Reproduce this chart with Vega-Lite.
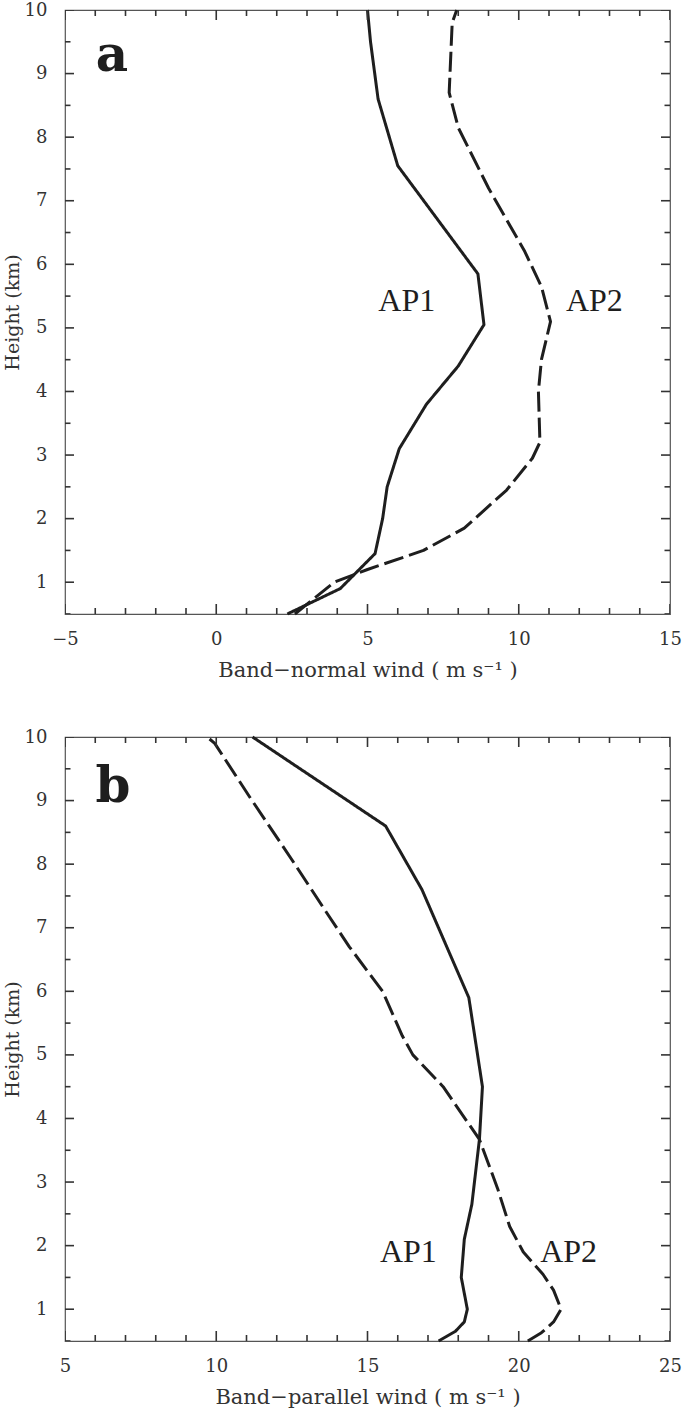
{
  "$schema": "https://vega.github.io/schema/vega-lite/v6.json",
  "padding": {"left": 2, "top": 0, "right": 5, "bottom": 0},
  "background": "white",
  "spacing": 46,
  "config": {
    "view": {"stroke": "#555", "strokeWidth": 1.2},
    "axis": {"domain": false, "grid": false, "ticks": false, "labelFont": "DejaVu Serif", "labelFontSize": 18, "labelColor": "#333", "titleFont": "DejaVu Serif", "titleFontWeight": "normal", "titleColor": "#333", "labelFlush": false, "labelOverlap": false}
  },
  "datasets": {
    "xa_ticks": [{"v": -5}, {"v": -4}, {"v": -3}, {"v": -2}, {"v": -1}, {"v": 0}, {"v": 1}, {"v": 2}, {"v": 3}, {"v": 4}, {"v": 5}, {"v": 6}, {"v": 7}, {"v": 8}, {"v": 9}, {"v": 10}, {"v": 11}, {"v": 12}, {"v": 13}, {"v": 14}, {"v": 15}],
    "xb_ticks": [{"v": 5}, {"v": 6}, {"v": 7}, {"v": 8}, {"v": 9}, {"v": 10}, {"v": 11}, {"v": 12}, {"v": 13}, {"v": 14}, {"v": 15}, {"v": 16}, {"v": 17}, {"v": 18}, {"v": 19}, {"v": 20}, {"v": 21}, {"v": 22}, {"v": 23}, {"v": 24}, {"v": 25}],
    "y_ticks": [{"v": 0.5}, {"v": 1}, {"v": 1.5}, {"v": 2}, {"v": 2.5}, {"v": 3}, {"v": 3.5}, {"v": 4}, {"v": 4.5}, {"v": 5}, {"v": 5.5}, {"v": 6}, {"v": 6.5}, {"v": 7}, {"v": 7.5}, {"v": 8}, {"v": 8.5}, {"v": 9}, {"v": 9.5}, {"v": 10}],
    "a_lines": [
      {"series": "AP1", "height": 10.0, "wind": 5.0},
      {"series": "AP1", "height": 9.5, "wind": 5.1},
      {"series": "AP1", "height": 8.6, "wind": 5.35},
      {"series": "AP1", "height": 7.55, "wind": 6.0},
      {"series": "AP1", "height": 5.85, "wind": 8.65},
      {"series": "AP1", "height": 5.05, "wind": 8.85},
      {"series": "AP1", "height": 4.4, "wind": 8.0},
      {"series": "AP1", "height": 3.8, "wind": 6.95},
      {"series": "AP1", "height": 3.1, "wind": 6.05},
      {"series": "AP1", "height": 2.5, "wind": 5.65},
      {"series": "AP1", "height": 2.0, "wind": 5.5},
      {"series": "AP1", "height": 1.45, "wind": 5.25},
      {"series": "AP1", "height": 0.9, "wind": 4.1},
      {"series": "AP1", "height": 0.5, "wind": 2.35},
      {"series": "AP2", "height": 10.0, "wind": 7.95},
      {"series": "AP2", "height": 9.8, "wind": 7.8},
      {"series": "AP2", "height": 8.7, "wind": 7.7},
      {"series": "AP2", "height": 8.15, "wind": 8.0},
      {"series": "AP2", "height": 7.2, "wind": 9.0},
      {"series": "AP2", "height": 6.2, "wind": 10.2},
      {"series": "AP2", "height": 5.65, "wind": 10.75},
      {"series": "AP2", "height": 5.1, "wind": 11.05},
      {"series": "AP2", "height": 4.5, "wind": 10.75},
      {"series": "AP2", "height": 4.0, "wind": 10.65},
      {"series": "AP2", "height": 3.2, "wind": 10.7},
      {"series": "AP2", "height": 2.95, "wind": 10.45},
      {"series": "AP2", "height": 2.45, "wind": 9.6},
      {"series": "AP2", "height": 1.85, "wind": 8.2},
      {"series": "AP2", "height": 1.5, "wind": 6.85},
      {"series": "AP2", "height": 1.2, "wind": 5.0},
      {"series": "AP2", "height": 1.0, "wind": 3.9},
      {"series": "AP2", "height": 0.5, "wind": 2.6}
    ],
    "a_labels": [
      {"label": "AP1", "wind": 6.3, "height": 5.27},
      {"label": "AP2", "wind": 12.5, "height": 5.27}
    ],
    "b_lines": [
      {"series": "AP1", "height": 10.0, "wind": 11.2},
      {"series": "AP1", "height": 8.6, "wind": 15.6},
      {"series": "AP1", "height": 7.6, "wind": 16.8},
      {"series": "AP1", "height": 5.9, "wind": 18.35},
      {"series": "AP1", "height": 4.5, "wind": 18.8},
      {"series": "AP1", "height": 3.67, "wind": 18.7},
      {"series": "AP1", "height": 2.65, "wind": 18.45},
      {"series": "AP1", "height": 2.1, "wind": 18.2},
      {"series": "AP1", "height": 1.5, "wind": 18.1},
      {"series": "AP1", "height": 1.0, "wind": 18.3},
      {"series": "AP1", "height": 0.8, "wind": 18.2},
      {"series": "AP1", "height": 0.65, "wind": 17.9},
      {"series": "AP1", "height": 0.5, "wind": 17.35},
      {"series": "AP2", "height": 10.0, "wind": 9.7},
      {"series": "AP2", "height": 9.9, "wind": 9.95},
      {"series": "AP2", "height": 9.06, "wind": 11.1},
      {"series": "AP2", "height": 8.07, "wind": 12.5},
      {"series": "AP2", "height": 7.2, "wind": 13.7},
      {"series": "AP2", "height": 6.7, "wind": 14.4},
      {"series": "AP2", "height": 6.0, "wind": 15.5},
      {"series": "AP2", "height": 5.3, "wind": 16.15},
      {"series": "AP2", "height": 5.0, "wind": 16.5},
      {"series": "AP2", "height": 4.5, "wind": 17.5},
      {"series": "AP2", "height": 3.67, "wind": 18.7},
      {"series": "AP2", "height": 2.9, "wind": 19.3},
      {"series": "AP2", "height": 2.3, "wind": 19.7},
      {"series": "AP2", "height": 1.9, "wind": 20.15},
      {"series": "AP2", "height": 1.55, "wind": 20.8},
      {"series": "AP2", "height": 1.3, "wind": 21.15},
      {"series": "AP2", "height": 1.0, "wind": 21.4},
      {"series": "AP2", "height": 0.8, "wind": 21.15},
      {"series": "AP2", "height": 0.63, "wind": 20.75},
      {"series": "AP2", "height": 0.5, "wind": 20.3}
    ],
    "b_labels": [
      {"label": "AP1", "wind": 16.35, "height": 1.74},
      {"label": "AP2", "wind": 21.65, "height": 1.74}
    ]
  },
  "vconcat": [
    {
      "width": 605,
      "height": 604,
      "layer": [
        {
          "data": {"name": "a_lines"},
          "mark": {"type": "line", "color": "#1e1e1e", "strokeWidth": 3, "strokeJoin": "round"},
          "encoding": {
            "x": {"field": "wind", "type": "quantitative", "scale": {"domain": [-5, 15], "nice": false, "zero": false},
              "axis": {"orient": "bottom", "values": [-5, 0, 5, 10, 15], "format": "d", "labelPadding": 16,
                "title": "Band−normal wind ( m s⁻¹ )", "titleFontSize": 21, "titleY": 56, "titleBaseline": "middle"}},
            "y": {"field": "height", "type": "quantitative", "scale": {"domain": [0.5, 10], "nice": false, "zero": false},
              "axis": {"orient": "left", "values": [1, 2, 3, 4, 5, 6, 7, 8, 9, 10], "format": "d", "labelPadding": 18,
                "title": "Height (km)", "titleFontSize": 19, "titleX": -53, "titleBaseline": "middle"}},
            "strokeDash": {"field": "series", "type": "nominal", "scale": {"domain": ["AP1", "AP2"], "range": [[1, 0], [20, 6]]}, "legend": null},
            "order": {"field": "height", "type": "quantitative"}
          }
        },
        {
          "data": {"name": "xa_ticks"},
          "mark": {"type": "tick", "orient": "vertical", "clip": true, "color": "#333", "thickness": 1.6, "opacity": 1},
          "encoding": {
            "x": {"field": "v", "type": "quantitative", "axis": null},
            "y": {"datum": 0.5, "type": "quantitative", "axis": null},
            "size": {"condition": {"test": "datum.v % 5 === 0", "value": 20}, "value": 12}
          }
        },
        {
          "data": {"name": "xa_ticks"},
          "mark": {"type": "tick", "orient": "vertical", "clip": true, "color": "#333", "thickness": 1.6, "opacity": 1},
          "encoding": {
            "x": {"field": "v", "type": "quantitative", "axis": null},
            "y": {"datum": 10, "type": "quantitative", "axis": null},
            "size": {"condition": {"test": "datum.v % 5 === 0", "value": 20}, "value": 12}
          }
        },
        {
          "data": {"name": "y_ticks"},
          "mark": {"type": "tick", "orient": "horizontal", "clip": true, "color": "#333", "thickness": 1.6, "opacity": 1},
          "encoding": {
            "y": {"field": "v", "type": "quantitative", "axis": null},
            "x": {"datum": -5, "type": "quantitative", "axis": null},
            "size": {"condition": {"test": "datum.v % 1 === 0", "value": 18}, "value": 11}
          }
        },
        {
          "data": {"name": "y_ticks"},
          "mark": {"type": "tick", "orient": "horizontal", "clip": true, "color": "#333", "thickness": 1.6, "opacity": 1},
          "encoding": {
            "y": {"field": "v", "type": "quantitative", "axis": null},
            "x": {"datum": 15, "type": "quantitative", "axis": null},
            "size": {"condition": {"test": "datum.v % 1 === 0", "value": 18}, "value": 11}
          }
        },
        {
          "data": {"name": "a_labels"},
          "mark": {"type": "text", "font": "Liberation Serif", "fontSize": 32, "baseline": "alphabetic", "align": "center", "color": "#1e1e1e"},
          "encoding": {
            "x": {"field": "wind", "type": "quantitative", "axis": null},
            "y": {"field": "height", "type": "quantitative", "axis": null},
            "text": {"field": "label", "type": "nominal"}
          }
        },
        {
          "data": {"values": [{"label": "a", "wind": -3.45, "height": 9.04}]},
          "mark": {"type": "text", "font": "DejaVu Serif", "fontWeight": "bold", "fontSize": 50, "baseline": "alphabetic", "align": "center", "color": "#1e1e1e"},
          "encoding": {
            "x": {"field": "wind", "type": "quantitative", "axis": null},
            "y": {"field": "height", "type": "quantitative", "axis": null},
            "text": {"field": "label", "type": "nominal"}
          }
        }
      ],
      "resolve": {"axis": {"x": "independent", "y": "independent"}}
    },
    {
      "width": 605,
      "height": 604,
      "layer": [
        {
          "data": {"name": "b_lines"},
          "mark": {"type": "line", "color": "#1e1e1e", "strokeWidth": 3, "strokeJoin": "round"},
          "encoding": {
            "x": {"field": "wind", "type": "quantitative", "scale": {"domain": [5, 25], "nice": false, "zero": false},
              "axis": {"orient": "bottom", "values": [5, 10, 15, 20, 25], "format": "d", "labelPadding": 16,
                "title": "Band−parallel wind ( m s⁻¹ )", "titleFontSize": 21, "titleY": 56, "titleBaseline": "middle"}},
            "y": {"field": "height", "type": "quantitative", "scale": {"domain": [0.5, 10], "nice": false, "zero": false},
              "axis": {"orient": "left", "values": [1, 2, 3, 4, 5, 6, 7, 8, 9, 10], "format": "d", "labelPadding": 18,
                "title": "Height (km)", "titleFontSize": 19, "titleX": -53, "titleBaseline": "middle"}},
            "strokeDash": {"field": "series", "type": "nominal", "scale": {"domain": ["AP1", "AP2"], "range": [[1, 0], [20, 6]]}, "legend": null},
            "order": {"field": "height", "type": "quantitative"}
          }
        },
        {
          "data": {"name": "xb_ticks"},
          "mark": {"type": "tick", "orient": "vertical", "clip": true, "color": "#333", "thickness": 1.6, "opacity": 1},
          "encoding": {
            "x": {"field": "v", "type": "quantitative", "axis": null},
            "y": {"datum": 0.5, "type": "quantitative", "axis": null},
            "size": {"condition": {"test": "datum.v % 5 === 0", "value": 20}, "value": 12}
          }
        },
        {
          "data": {"name": "xb_ticks"},
          "mark": {"type": "tick", "orient": "vertical", "clip": true, "color": "#333", "thickness": 1.6, "opacity": 1},
          "encoding": {
            "x": {"field": "v", "type": "quantitative", "axis": null},
            "y": {"datum": 10, "type": "quantitative", "axis": null},
            "size": {"condition": {"test": "datum.v % 5 === 0", "value": 20}, "value": 12}
          }
        },
        {
          "data": {"name": "y_ticks"},
          "mark": {"type": "tick", "orient": "horizontal", "clip": true, "color": "#333", "thickness": 1.6, "opacity": 1},
          "encoding": {
            "y": {"field": "v", "type": "quantitative", "axis": null},
            "x": {"datum": 5, "type": "quantitative", "axis": null},
            "size": {"condition": {"test": "datum.v % 1 === 0", "value": 18}, "value": 11}
          }
        },
        {
          "data": {"name": "y_ticks"},
          "mark": {"type": "tick", "orient": "horizontal", "clip": true, "color": "#333", "thickness": 1.6, "opacity": 1},
          "encoding": {
            "y": {"field": "v", "type": "quantitative", "axis": null},
            "x": {"datum": 25, "type": "quantitative", "axis": null},
            "size": {"condition": {"test": "datum.v % 1 === 0", "value": 18}, "value": 11}
          }
        },
        {
          "data": {"name": "b_labels"},
          "mark": {"type": "text", "font": "Liberation Serif", "fontSize": 32, "baseline": "alphabetic", "align": "center", "color": "#1e1e1e"},
          "encoding": {
            "x": {"field": "wind", "type": "quantitative", "axis": null},
            "y": {"field": "height", "type": "quantitative", "axis": null},
            "text": {"field": "label", "type": "nominal"}
          }
        },
        {
          "data": {"values": [{"label": "b", "wind": 6.59, "height": 8.98}]},
          "mark": {"type": "text", "font": "DejaVu Serif", "fontWeight": "bold", "fontSize": 50, "baseline": "alphabetic", "align": "center", "color": "#1e1e1e"},
          "encoding": {
            "x": {"field": "wind", "type": "quantitative", "axis": null},
            "y": {"field": "height", "type": "quantitative", "axis": null},
            "text": {"field": "label", "type": "nominal"}
          }
        }
      ],
      "resolve": {"axis": {"x": "independent", "y": "independent"}}
    }
  ]
}
